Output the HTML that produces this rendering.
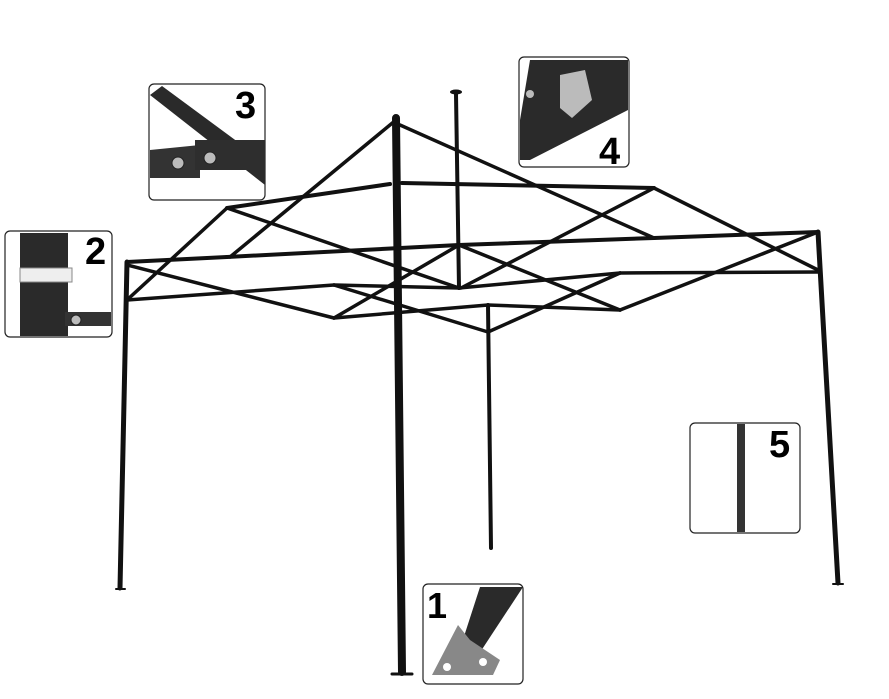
<!DOCTYPE html>
<html><head><meta charset="utf-8"><style>
html,body{margin:0;padding:0;background:#fff;}
svg{display:block}
text{font-family:"Liberation Sans",sans-serif;font-weight:bold;}
</style></head><body>
<svg width="889" height="699" viewBox="0 0 889 699" xmlns="http://www.w3.org/2000/svg">
<g stroke="#111" stroke-linecap="round" fill="none">
<line x1="127" y1="262" x2="120" y2="588" stroke-width="5"/>
<line x1="818" y1="232" x2="838" y2="583" stroke-width="5"/>
<line x1="488" y1="305" x2="491" y2="548" stroke-width="4"/>
<line x1="396" y1="118" x2="402" y2="672" stroke-width="8"/>
<line x1="392" y1="674" x2="412" y2="674" stroke-width="3"/>
<line x1="116" y1="589" x2="125" y2="589" stroke-width="2"/>
<line x1="833" y1="584" x2="843" y2="584" stroke-width="2"/>
<line x1="456" y1="94" x2="459" y2="288" stroke-width="4"/>
<ellipse cx="456" cy="92" rx="6" ry="2.5" fill="#111" stroke="none"/>
<g stroke-width="4">
<line x1="227" y1="208" x2="390" y2="184"/>
<line x1="402" y1="183" x2="654" y2="188"/>
<line x1="127" y1="262" x2="227" y2="257"/>
<line x1="227" y1="257" x2="459" y2="245"/>
<line x1="459" y1="245" x2="654" y2="238"/>
<line x1="654" y1="238" x2="818" y2="232"/>
</g>
<g stroke-width="3.5">
<line x1="396" y1="120" x2="230" y2="257"/>
<line x1="227" y1="208" x2="127" y2="300"/>
<line x1="400" y1="125" x2="654" y2="238"/>
<line x1="654" y1="188" x2="818" y2="270"/>
<line x1="818" y1="232" x2="620" y2="310"/>
<line x1="227" y1="208" x2="459" y2="288"/>
<line x1="334" y1="318" x2="459" y2="245"/>
<line x1="459" y1="245" x2="620" y2="310"/>
<line x1="461" y1="288" x2="654" y2="188"/>
<line x1="334" y1="285" x2="488" y2="332"/>
<line x1="488" y1="332" x2="620" y2="273"/>
<line x1="127" y1="300" x2="334" y2="285"/>
<line x1="334" y1="285" x2="459" y2="288"/>
<line x1="459" y1="288" x2="620" y2="273"/>
<line x1="620" y1="273" x2="818" y2="272"/>
<line x1="127" y1="265" x2="334" y2="318"/>
<line x1="334" y1="318" x2="488" y2="305"/>
<line x1="488" y1="305" x2="620" y2="310"/>
</g>
</g>
<g stroke="#222" stroke-width="1.2" fill="#fff">
<rect x="149" y="84" width="116" height="116" rx="5"/>
<rect x="519" y="57" width="110" height="110" rx="5"/>
<rect x="5" y="231" width="107" height="106" rx="5"/>
<rect x="690" y="423" width="110" height="110" rx="5"/>
<rect x="423" y="584" width="100" height="100" rx="5"/>
</g>
<polygon points="150,95 162,86 265,162 265,185" fill="#2a2a2a"/>
<polygon points="150,150 200,145 200,178 150,178" fill="#333"/>
<rect x="195" y="140" width="70" height="30" fill="#2e2e2e"/>
<circle cx="178" cy="163" r="6" fill="#bbb" stroke="#222"/>
<circle cx="210" cy="158" r="6" fill="#bbb" stroke="#222"/>
<text x="235" y="118" font-size="38">3</text>
<polygon points="530,60 628,60 628,110 530,160 520,160 520,120" fill="#2a2a2a"/>
<polygon points="560,75 585,70 592,100 572,118 560,108" fill="#bbb"/>
<circle cx="530" cy="94" r="4" fill="#bbb"/>
<text x="599" y="164" font-size="38">4</text>
<rect x="20" y="233" width="48" height="103" fill="#2a2a2a"/>
<rect x="20" y="268" width="52" height="14" fill="#eee" stroke="#888"/>
<rect x="65" y="312" width="46" height="14" fill="#333"/>
<circle cx="76" cy="320" r="5" fill="#bbb" stroke="#222"/>
<text x="85" y="264" font-size="38">2</text>
<rect x="737" y="424" width="8" height="108" fill="#333"/>
<text x="769" y="457" font-size="38">5</text>
<polygon points="480,587 523,587 475,660 458,655" fill="#2a2a2a"/>
<polygon points="432,675 458,625 470,640 500,660 493,675" fill="#888"/>
<circle cx="447" cy="667" r="4" fill="#fff"/>
<circle cx="483" cy="662" r="4" fill="#fff"/>
<text x="427" y="618" font-size="36">1</text>
</svg>
</body></html>
